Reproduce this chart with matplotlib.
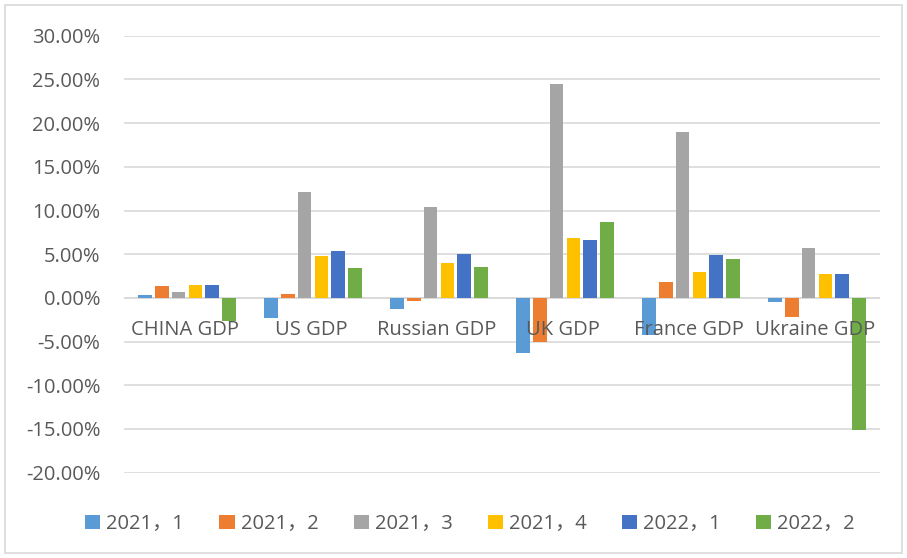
import numpy as np
import matplotlib
matplotlib.use("Agg")
from matplotlib import pyplot as plt
from matplotlib.patches import Rectangle

plt.rcParams['font.family'] = ['Open Sans', 'Noto Sans CJK SC', 'DejaVu Sans']

# dados
categorias = ["CHINA GDP", "US GDP", "Russian GDP", "UK GDP", "France GDP", "Ukraine GDP"]
series = ["2021，1", "2021，2", "2021，3", "2021，4", "2022，1", "2022，2"]
q2021_1 = [0.3, -2.35, -1.3, -6.3, -4.2, -0.5]
q2021_2 = [1.35, 0.45, -0.3, -5.05, 1.8, -2.2]
q2021_3 = [0.65, 12.1, 10.45, 24.5, 19.0, 5.7]
q2021_4 = [1.5, 4.8, 4.0, 6.9, 2.95, 2.75]
q2022_1 = [1.45, 5.4, 5.0, 6.6, 4.9, 2.75]
q2022_2 = [-2.6, 3.4, 3.5, 8.7, 4.5, -15.1]
valores = [q2021_1, q2021_2, q2021_3, q2021_4, q2022_1, q2022_2]
cores = ["#5B9BD5", "#ED7D31", "#A5A5A5", "#FFC000", "#4472C4", "#70AD47"]
yticks = np.arange(-20, 31, 5)

cinza = "#595959"
fs = 14.5
fig = plt.figure(figsize=(9.07, 5.58), dpi=100)
ax = fig.add_axes([124/907, 1-472.7/558, (880-124)/907, (472.7-35.7)/558])

x = np.arange(len(categorias))
passo = 0.133
largura = 0.107
for i in range(len(series)):
    ax.bar(x + (i - 2.5)*passo, valores[i], width=largura, color=cores[i],
           label=series[i], zorder=3)

ax.set_xlim(-0.5, len(categorias) - 0.5)
ax.set_ylim(-20, 30)
ax.set_yticks(yticks)
ax.set_yticklabels(["%.2f%%" % v for v in yticks], fontsize=fs, color=cinza)
ax.tick_params(axis='y', length=0, pad=17)
ax.set_xticks([])
ax.grid(axis='y', color="#d9d9d9", linewidth=1.2, zorder=0)
ax.axhline(0, color="#d9d9d9", linewidth=1.2, zorder=1)
for s in ax.spines.values():
    s.set_visible(False)

for xi, nome in zip(x, categorias):
    ax.annotate(nome, (xi, 0), xytext=(-2, -32), textcoords='offset pixels',
                ha='center', va='center', fontsize=fs, color=cinza, zorder=4)

leg = fig.legend(loc='center', bbox_to_anchor=(470/907, 1-524/558), ncol=6,
                 frameon=False, fontsize=fs, handlelength=0.75, handleheight=0.75,
                 handletextpad=0.3, columnspacing=1.75, labelcolor=cinza)

fig.patches.append(Rectangle((5/907, 5/558), 897/907, 548/558, transform=fig.transFigure,
                             fill=False, edgecolor="#d9d9d9", linewidth=1.2))

fig.savefig("out.png", dpi=100)
